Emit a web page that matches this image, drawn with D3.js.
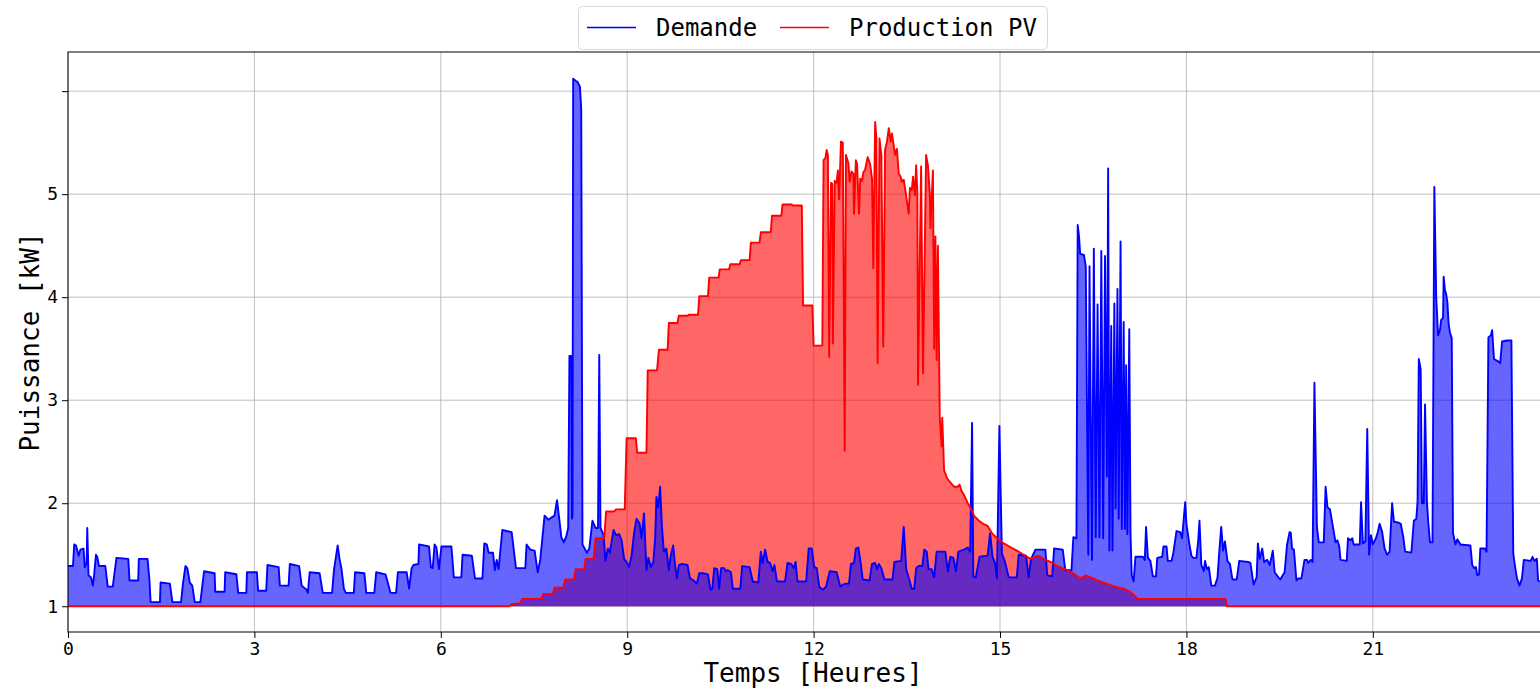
<!DOCTYPE html>
<html>
<head>
  <meta charset="utf-8">
  <title>Demande / Production PV</title>
  <script src="https://d3js.org/d3.v7.min.js"></script>
  <style>
    body { margin: 0; background: #fff; overflow: hidden; }
    text { font-family: "DejaVu Sans Mono", monospace; fill: #000; }
  </style>
</head>
<body>
<div id="chart"></div>
<script>
// heures et puissance (kW)
var demandHours = [
  0.00,0.08,0.10,0.13,0.17,0.20,0.25,0.27,0.30,0.31,0.33,0.37,0.40,0.42,0.45,0.47,0.50,0.60,0.64,0.72,
  0.78,0.97,0.99,1.13,1.14,1.28,1.31,1.33,1.48,1.49,1.64,1.68,1.82,1.85,1.89,1.92,1.96,2.00,2.04,2.13,
  2.19,2.36,2.37,2.52,2.53,2.71,2.74,2.87,2.88,3.04,3.06,3.19,3.21,3.39,3.41,3.55,3.57,3.72,3.76,3.84,
  3.86,3.89,4.05,4.10,4.25,4.28,4.34,4.37,4.40,4.44,4.47,4.60,4.62,4.77,4.80,4.93,4.96,5.11,5.16,5.19,
  5.28,5.31,5.45,5.49,5.53,5.56,5.64,5.65,5.81,5.84,5.87,5.90,5.93,5.97,6.01,6.17,6.21,6.33,6.35,6.50,
  6.55,6.67,6.70,6.74,6.77,6.84,6.87,6.90,6.93,6.99,7.14,7.21,7.36,7.38,7.44,7.51,7.56,7.60,7.67,7.73,
  7.78,7.83,7.87,7.91,7.94,7.98,8.02,8.05,8.07,8.10,8.11,8.12,8.13,8.17,8.20,8.24,8.26,8.28,8.35,8.39,
  8.44,8.49,8.53,8.55,8.57,8.62,8.65,8.69,8.72,8.78,8.82,8.87,8.91,8.95,9.00,9.03,9.07,9.11,9.15,9.20,
  9.23,9.27,9.31,9.34,9.38,9.42,9.45,9.47,9.50,9.53,9.56,9.59,9.63,9.67,9.70,9.74,9.77,9.80,9.83,9.88,
  9.97,10.01,10.07,10.12,10.16,10.22,10.30,10.34,10.37,10.40,10.45,10.48,10.51,10.56,10.59,10.62,10.67,10.70,10.82,10.85,
  10.97,11.02,11.11,11.15,11.18,11.22,11.26,11.30,11.34,11.37,11.41,11.54,11.58,11.64,11.68,11.71,11.74,11.88,11.92,11.97,
  12.01,12.05,12.09,12.15,12.20,12.26,12.37,12.43,12.47,12.52,12.57,12.60,12.65,12.68,12.72,12.76,12.79,12.90,12.94,12.99,
  13.02,13.05,13.09,13.14,13.27,13.30,13.41,13.45,13.49,13.53,13.58,13.62,13.65,13.69,13.75,13.78,13.82,13.85,13.90,13.94,
  13.98,14.12,14.16,14.20,14.25,14.29,14.33,14.42,14.48,14.52,14.55,14.57,14.61,14.67,14.80,14.84,14.88,14.92,14.95,14.99,
  15.03,15.08,15.14,15.27,15.30,15.42,15.46,15.50,15.57,15.73,15.76,15.84,15.87,16.01,16.05,16.15,16.18,16.23,16.25,16.27,
  16.29,16.35,16.38,16.42,16.44,16.48,16.51,16.54,16.57,16.60,16.63,16.66,16.69,16.72,16.74,16.76,16.79,16.81,16.84,16.86,
  16.89,16.91,16.94,16.96,16.99,17.01,17.03,17.05,17.08,17.10,17.12,17.15,17.18,17.30,17.33,17.35,17.38,17.42,17.46,17.51,
  17.53,17.61,17.63,17.68,17.70,17.76,17.79,17.84,17.90,17.93,17.98,18.00,18.04,18.08,18.11,18.16,18.19,18.21,18.24,18.28,
  18.30,18.33,18.36,18.40,18.46,18.50,18.53,18.56,18.59,18.62,18.66,18.70,18.74,18.81,18.85,18.99,19.03,19.08,19.13,19.15,
  19.18,19.22,19.25,19.30,19.34,19.37,19.39,19.42,19.48,19.51,19.55,19.58,19.62,19.66,19.68,19.70,19.73,19.77,19.80,19.85,
  19.90,19.94,19.96,20.00,20.03,20.06,20.10,20.13,20.21,20.24,20.27,20.31,20.35,20.40,20.43,20.46,20.48,20.58,20.60,20.64,
  20.67,20.69,20.79,20.81,20.84,20.88,20.91,20.94,20.97,21.00,21.05,21.08,21.11,21.15,21.19,21.23,21.27,21.31,21.34,21.42,
  21.45,21.49,21.52,21.62,21.66,21.70,21.72,21.74,21.77,21.79,21.82,21.84,21.87,21.89,21.92,21.96,21.99,22.02,22.05,22.08,
  22.10,22.13,22.14,22.16,22.18,22.20,22.22,22.24,22.27,22.29,22.33,22.36,22.41,22.57,22.60,22.63,22.66,22.68,22.71,22.73,
  22.80,22.83,22.86,22.90,22.92,22.95,23.01,23.05,23.08,23.16,23.23,23.26,23.29,23.32,23.36,23.40,23.43,23.54,23.57,23.60,
  23.64,23.66,23.75,23.98
];
var demandKW = [
  1.39,1.39,1.60,1.59,1.49,1.55,1.56,1.38,1.42,1.76,1.30,1.28,1.20,1.30,1.50,1.48,1.39,1.39,1.19,1.19,
  1.47,1.46,1.25,1.25,1.46,1.46,1.26,1.04,1.04,1.23,1.22,1.04,1.04,1.22,1.39,1.37,1.23,1.20,1.04,1.04,
  1.34,1.32,1.14,1.14,1.33,1.31,1.13,1.13,1.33,1.33,1.15,1.15,1.40,1.38,1.20,1.20,1.41,1.39,1.20,1.16,
  1.13,1.33,1.32,1.13,1.13,1.35,1.59,1.46,1.37,1.17,1.13,1.13,1.33,1.32,1.13,1.13,1.33,1.31,1.20,1.13,
  1.13,1.33,1.33,1.17,1.37,1.40,1.41,1.60,1.58,1.38,1.37,1.60,1.57,1.36,1.58,1.58,1.28,1.28,1.50,1.49,
  1.27,1.27,1.61,1.60,1.52,1.52,1.35,1.45,1.36,1.74,1.72,1.37,1.37,1.60,1.55,1.54,1.33,1.45,1.88,1.84,
  1.86,1.88,2.03,1.83,1.67,1.62,1.68,1.76,3.43,3.43,1.85,1.88,6.12,6.10,6.09,6.04,5.82,1.60,1.52,1.56,
  1.83,1.76,1.76,3.44,1.76,1.69,1.44,1.56,1.52,1.74,1.69,1.70,1.64,1.46,1.42,1.38,1.49,1.71,1.85,1.80,
  1.66,1.90,1.35,1.47,1.38,1.43,1.66,2.06,1.96,2.16,1.76,1.53,1.56,1.35,1.49,1.59,1.40,1.27,1.40,1.41,
  1.40,1.27,1.25,1.22,1.32,1.32,1.31,1.16,1.17,1.37,1.36,1.17,1.37,1.37,1.34,1.35,1.33,1.17,1.17,1.39,
  1.38,1.24,1.23,1.53,1.42,1.55,1.43,1.42,1.34,1.40,1.24,1.24,1.42,1.41,1.37,1.43,1.24,1.24,1.56,1.56,
  1.38,1.37,1.19,1.16,1.19,1.34,1.33,1.19,1.21,1.22,1.22,1.41,1.42,1.56,1.57,1.41,1.26,1.25,1.41,1.42,
  1.36,1.41,1.37,1.26,1.26,1.43,1.44,1.77,1.36,1.28,1.17,1.17,1.37,1.39,1.39,1.55,1.53,1.36,1.36,1.28,
  1.53,1.53,1.34,1.48,1.47,1.34,1.53,1.55,1.57,1.53,2.78,1.29,1.28,1.48,1.49,1.71,1.48,1.42,1.27,2.75,
  1.51,1.43,1.28,1.28,1.50,1.49,1.28,1.46,1.55,1.55,1.30,1.29,1.56,1.55,1.35,1.35,1.67,1.66,4.70,4.60,
  4.42,4.41,4.30,1.50,4.30,1.45,4.47,1.67,3.93,1.67,4.45,1.66,4.40,2.26,5.25,1.54,3.72,1.54,3.94,1.95,
  4.08,1.85,4.54,1.75,3.76,1.75,3.34,1.70,3.69,1.70,1.30,1.24,1.48,1.48,1.45,1.77,1.47,1.44,1.29,1.29,
  1.47,1.48,1.58,1.58,1.44,1.44,1.52,1.73,1.72,1.66,2.01,1.80,1.63,1.49,1.47,1.47,1.64,1.83,1.40,1.34,
  1.44,1.36,1.38,1.20,1.20,1.28,1.54,1.77,1.54,1.63,1.44,1.41,1.26,1.26,1.44,1.43,1.42,1.21,1.28,1.61,
  1.46,1.56,1.43,1.45,1.40,1.48,1.54,1.33,1.28,1.26,1.30,1.33,1.60,1.72,1.71,1.56,1.55,1.25,1.27,1.27,
  1.45,1.45,1.42,1.45,1.43,3.17,1.77,1.62,1.62,2.16,1.96,1.94,1.80,1.62,1.64,1.58,1.45,1.44,1.66,1.64,
  1.66,1.60,1.60,2.01,1.61,1.63,2.72,1.50,1.69,1.60,1.66,1.72,1.80,1.72,1.56,1.50,1.53,2.00,1.82,1.81,
  1.80,1.67,1.53,1.52,1.83,1.85,2.02,3.40,3.30,2.00,2.00,2.96,2.02,1.83,1.62,1.62,5.07,4.00,3.63,3.68,
  3.78,3.80,4.20,4.07,4.03,3.95,3.74,3.66,3.60,1.71,1.60,1.65,1.60,1.59,1.40,1.37,1.38,1.30,1.31,1.56,
  1.56,1.53,3.61,3.63,3.68,3.40,3.38,3.36,3.57,3.58,3.58,1.51,1.38,1.27,1.20,1.27,1.45,1.44,1.48,1.44,
  1.46,1.25,1.22,1.22
];
var pvHours = [
  0.00,7.10,7.14,7.28,7.31,7.62,7.65,7.80,7.83,7.97,8.00,8.14,8.17,8.31,8.33,8.46,8.49,8.63,8.66,8.79,
  8.82,8.96,8.99,9.14,9.16,9.31,9.33,9.48,9.51,9.65,9.67,9.81,9.83,9.97,9.99,10.14,10.16,10.30,10.32,10.47,
  10.49,10.64,10.66,10.81,10.83,10.97,10.99,11.13,11.15,11.31,11.33,11.48,11.50,11.65,11.66,11.81,11.83,11.98,12.00,12.14,
  12.16,12.19,12.21,12.23,12.25,12.28,12.30,12.31,12.34,12.37,12.39,12.41,12.44,12.47,12.50,12.52,12.56,12.58,12.61,12.64,
  12.65,12.68,12.70,12.73,12.75,12.78,12.80,12.83,12.87,12.91,12.94,12.96,12.99,13.01,13.03,13.06,13.09,13.12,13.15,13.18,
  13.21,13.24,13.26,13.29,13.31,13.34,13.37,13.40,13.42,13.45,13.49,13.53,13.55,13.58,13.60,13.63,13.65,13.67,13.68,13.73,
  13.76,13.81,13.84,13.87,13.88,13.92,13.94,13.96,13.98,14.00,14.03,14.06,14.07,14.10,14.15,14.26,14.32,14.35,14.38,14.42,
  14.48,14.52,14.58,14.66,14.73,14.80,14.87,14.95,15.06,15.15,15.27,15.38,15.49,15.55,15.62,15.70,15.81,15.90,15.97,16.08,
  16.18,16.29,16.38,16.50,16.61,16.75,16.85,16.91,17.00,17.10,17.17,17.22,18.63,18.65,23.98
];
var pvKW = [
  1.00,1.00,1.02,1.03,1.07,1.07,1.12,1.12,1.18,1.18,1.26,1.26,1.36,1.36,1.46,1.46,1.66,1.66,1.92,1.92,
  1.94,1.94,2.63,2.63,2.49,2.49,3.29,3.29,3.49,3.49,3.75,3.75,3.82,3.82,3.83,3.83,4.01,4.01,4.19,4.19,
  4.27,4.27,4.32,4.32,4.36,4.36,4.53,4.53,4.63,4.63,4.79,4.79,4.90,4.90,4.89,4.89,3.92,3.92,3.53,3.53,
  5.33,5.35,5.43,5.38,3.42,5.11,5.10,3.55,5.13,5.11,5.23,4.95,5.51,5.50,2.51,5.38,5.30,5.12,5.22,5.20,
  4.81,5.33,5.29,4.81,5.15,5.13,5.21,5.24,5.36,5.29,5.15,4.28,5.70,5.55,3.36,5.54,5.38,3.52,5.43,5.51,
  5.64,5.51,5.59,5.47,5.38,5.44,5.20,5.17,5.12,5.14,4.98,4.81,5.06,5.04,5.17,4.99,5.28,5.02,3.15,5.27,
  3.26,5.38,5.28,5.01,4.67,5.23,3.50,4.59,3.39,4.50,2.84,2.55,2.83,2.32,2.24,2.16,2.16,2.18,2.12,2.08,
  2.00,1.96,1.88,1.83,1.80,1.78,1.71,1.66,1.61,1.58,1.54,1.50,1.46,1.48,1.49,1.46,1.43,1.40,1.38,1.35,
  1.32,1.27,1.30,1.27,1.24,1.21,1.19,1.18,1.17,1.14,1.10,1.07,1.07,1.00,1.00
];
var xTicks = [0, 3, 6, 9, 12, 15, 18, 21];
var yTicks = [1, 2, 3, 4, 5, 6];
var yTickLabels = ["1", "2", "3", "4", "5", ""];

var W = 1560, H = 688;
var plotLeft = 68, plotTop = 52, plotRight = 1558, plotBottom = 632;

var svg = d3.select("#chart").append("svg").attr("width", W).attr("height", H);

var x = d3.scaleLinear().domain([0, 23.98]).range([plotLeft, plotRight]);
var y = d3.scaleLinear().domain([0.75, 6.38]).range([plotBottom, plotTop]);

var demand = demandHours.map(function(h, i) { return {h: h, v: demandKW[i]}; });
var pv = pvHours.map(function(h, i) { return {h: h, v: pvKW[i]}; });

svg.append("defs").append("clipPath").attr("id", "clip")
  .append("rect").attr("x", plotLeft).attr("y", plotTop)
  .attr("width", plotRight - plotLeft).attr("height", plotBottom - plotTop);

// grille
var grid = svg.append("g").attr("stroke", "#b0b0b0").attr("stroke-width", 0.8);
grid.selectAll("line.gx").data(xTicks).enter().append("line")
  .attr("x1", function(d) { return x(d); }).attr("x2", function(d) { return x(d); })
  .attr("y1", plotTop).attr("y2", plotBottom);
grid.selectAll("line.gy").data(yTicks).enter().append("line")
  .attr("x1", plotLeft).attr("x2", plotRight)
  .attr("y1", function(d) { return y(d); }).attr("y2", function(d) { return y(d); });

var plot = svg.append("g").attr("clip-path", "url(#clip)");

var area = d3.area().x(function(d) { return x(d.h); }).y0(y(1)).y1(function(d) { return y(d.v); });
var line = d3.line().x(function(d) { return x(d.h); }).y(function(d) { return y(d.v); });

plot.append("path").datum(pv).attr("d", area).attr("fill", "#ff0000").attr("fill-opacity", 0.6);
plot.append("path").datum(demand).attr("d", area).attr("fill", "#0000ff").attr("fill-opacity", 0.6);
plot.append("path").datum(demand).attr("d", line).attr("fill", "none")
  .attr("stroke", "#0000ff").attr("stroke-width", 1.9).attr("stroke-linejoin", "round");
plot.append("path").datum(pv).attr("d", line).attr("fill", "none")
  .attr("stroke", "#ff0000").attr("stroke-width", 1.9).attr("stroke-linejoin", "round");

// axes
var xAxis = d3.axisBottom(x).tickValues(xTicks).tickSize(6).tickPadding(4);
var yAxis = d3.axisLeft(y).tickValues(yTicks).tickSize(6).tickPadding(4)
  .tickFormat(function(d, i) { return yTickLabels[i]; });

var gx = svg.append("g").attr("transform", "translate(0," + plotBottom + ")").call(xAxis);
var gy = svg.append("g").attr("transform", "translate(" + plotLeft + ",0)").call(yAxis);
[gx, gy].forEach(function(g) {
  g.select(".domain").remove();
  g.selectAll("line").attr("stroke", "#000").attr("stroke-width", 1);
  g.selectAll("text").attr("font-family", "DejaVu Sans Mono").attr("font-size", 18).attr("fill", "#000");
});

// cadre
svg.append("rect").attr("x", plotLeft).attr("y", plotTop)
  .attr("width", plotRight - plotLeft).attr("height", plotBottom - plotTop)
  .attr("fill", "none").attr("stroke", "#000").attr("stroke-width", 1);

// titres des axes
svg.append("text").attr("x", (plotLeft + plotRight) / 2).attr("y", 682).attr("text-anchor", "middle")
  .attr("font-size", 26).text("Temps [Heures]");
svg.append("text").attr("transform", "translate(39," + (plotTop + plotBottom) / 2 + ") rotate(-90)")
  .attr("text-anchor", "middle").attr("font-size", 26).text("Puissance [kW]");

// légende
var legend = svg.append("g");
legend.append("rect").attr("x", 578.5).attr("y", 6.5).attr("width", 469).attr("height", 43).attr("rx", 4)
  .attr("fill", "#fff").attr("stroke", "#d9d9d9").attr("stroke-width", 1);
var items = [
  {name: "Demande", color: "#0000ff", x: 587},
  {name: "Production PV", color: "#ff0000", x: 780}
];
items.forEach(function(it) {
  legend.append("line").attr("x1", it.x).attr("x2", it.x + 49).attr("y1", 27.5).attr("y2", 27.5)
    .attr("stroke", it.color).attr("stroke-width", 1.6);
  legend.append("text").attr("x", it.x + 69).attr("y", 36).attr("font-size", 24).text(it.name);
});
</script>
</body>
</html>
